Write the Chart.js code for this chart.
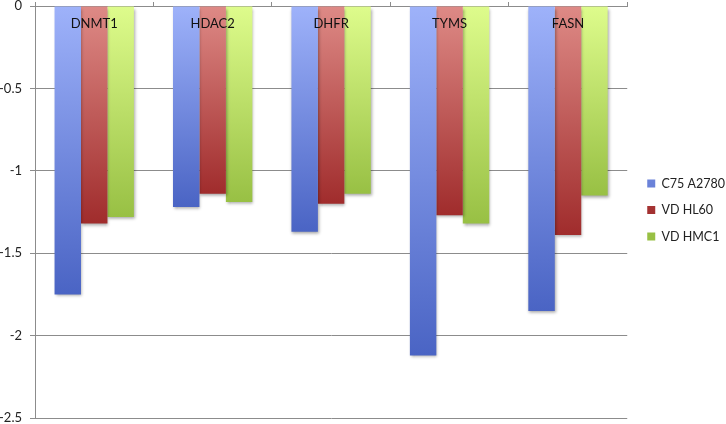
<!DOCTYPE html>
<html>
<head>
<meta charset="utf-8">
<script src="https://cdn.jsdelivr.net/npm/chart.js@4.4.1/dist/chart.umd.min.js"></script>
<style>
  html, body { margin: 0; padding: 0; background: #fff; overflow: hidden; }
  #wrap { width: 726px; height: 424px; position: relative; }
</style>
</head>
<body>
<div id="wrap"><canvas id="geneChart"></canvas></div>
<script>
// Data
const categories = ["DNMT1", "HDAC2", "DHFR", "TYMS", "FASN"];
const c75A2780 = [-1.75, -1.22, -1.37, -2.12, -1.85];
const vdHL60 = [-1.32, -1.14, -1.2, -1.27, -1.39];
const vdHMC1 = [-1.28, -1.19, -1.14, -1.32, -1.15];
const yTicks = [0, -0.5, -1, -1.5, -2, -2.5];

const FONT = "Lato, 'Open Sans', sans-serif";
const GRID = "#8c8c8c";

// vertical gradient from the zero line down to the end of each bar
function barFill(top, bottom) {
  return (ctx) => {
    const chart = ctx.chart;
    if (!chart.chartArea || ctx.type !== "data") return bottom;
    const y = chart.scales.y;
    const y0 = y.getPixelForValue(0);
    const y1 = y.getPixelForValue(ctx.raw);
    const g = chart.ctx.createLinearGradient(0, y0, 0, y1);
    g.addColorStop(0, top);
    g.addColorStop(1, bottom);
    return g;
  };
}

const barShadow = {
  id: "barShadow",
  beforeDatasetsDraw(chart) {
    const c = chart.ctx;
    c.save();
    c.shadowColor = "rgba(0,0,0,0.35)";
    c.shadowBlur = 3;
    c.shadowOffsetX = 1;
    c.shadowOffsetY = 2;
  },
  afterDatasetsDraw(chart) {
    chart.ctx.restore();
  },
};

// category names sit inside the plot, just under the zero line
const innerLabels = {
  id: "innerLabels",
  afterDraw(chart) {
    const c = chart.ctx;
    const x = chart.scales.x;
    c.save();
    c.font = "13px " + FONT;
    c.fillStyle = "#111";
    c.textAlign = "center";
    c.textBaseline = "middle";
    categories.forEach((name, i) => {
      c.fillText(name, x.getPixelForValue(i), chart.chartArea.top + 18);
    });
    c.restore();
  },
};

const geneChart = new Chart(document.getElementById("geneChart"), {
  type: "bar",
  data: {
    labels: categories,
    datasets: [
      {
        label: "C75 A2780",
        data: c75A2780,
        backgroundColor: barFill("rgb(158,178,250)", "rgb(74,100,196)"),
        borderWidth: 0,
      },
      {
        label: "VD HL60",
        data: vdHL60,
        backgroundColor: barFill("rgb(222,138,134)", "rgb(160,44,44)"),
        borderWidth: 0,
      },
      {
        label: "VD HMC1",
        data: vdHMC1,
        backgroundColor: barFill("rgb(222,252,140)", "rgb(152,192,68)"),
        borderWidth: 0,
      },
    ],
  },
  options: {
    responsive: true,
    maintainAspectRatio: false,
    animation: false,
    categoryPercentage: 0.67,
    barPercentage: 1.0,
    layout: { padding: { top: 2, right: -9, bottom: 6, left: 0 } },
    scales: {
      x: {
        position: "top",
        offset: true,
        ticks: { display: false },
        grid: { drawOnChartArea: false, offset: true, tickLength: 4, color: GRID },
        border: { color: GRID },
      },
      y: {
        min: -2.5,
        max: 0,
        afterBuildTicks: (scale) => {
          scale.ticks = yTicks.map((v) => ({ value: v }));
        },
        afterFit: (scale) => {
          scale.width = 35;
          scale.paddingTop = 0;
          scale.paddingBottom = 0;
        },
        ticks: {
          color: "#222",
          padding: 8,
          font: { family: FONT, size: 13 },
          callback: (v) => String(v),
        },
        grid: { color: GRID, tickLength: 5 },
        border: { color: GRID },
      },
      // empty strip between the plot and the legend
      gap: {
        type: "linear",
        position: "right",
        grid: { display: false },
        ticks: { display: false },
        border: { display: false },
        afterFit: (scale) => {
          scale.width = 6;
        },
      },
    },
    plugins: {
      tooltip: { enabled: false },
      legend: {
        position: "right",
        labels: {
          boxWidth: 8,
          boxHeight: 8,
          padding: 14,
          color: "#222",
          font: { family: FONT, size: 12.5 },
        },
      },
    },
  },
  plugins: [barShadow, innerLabels],
});
</script>
</body>
</html>
